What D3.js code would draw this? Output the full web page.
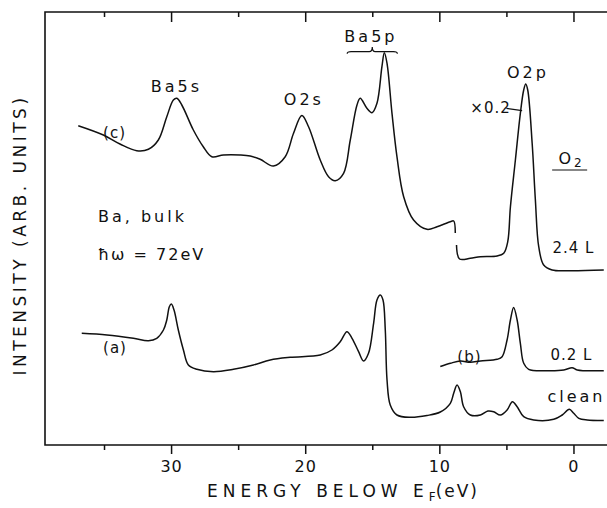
<!DOCTYPE html>
<html>
<head>
<meta charset="utf-8">
<script src="https://cdn.jsdelivr.net/npm/d3@7"></script>
<style>
  body { margin: 0; background: #fff; }
  text { font-family: "DejaVu Sans", sans-serif; fill: #111; }
</style>
</head>
<body>
<div id="chart-container"></div>
<script>
// spectra: [energy below EF (eV), intensity (arb. units)]
var curve_c1 = [[36.92,31.93],[35.05,31.0],[33.81,30.1],[32.56,29.43],[31.69,29.57],[30.95,30.5],[30.32,32.83],[29.83,34.5],[29.57,34.67],[29.2,34.0],[28.34,31.5],[27.6,29.83],[26.96,28.83],[26.1,29.0],[24.85,29.0],[24.1,28.9],[23.36,28.57],[22.37,27.9],[21.49,28.83],[20.87,31.17],[20.25,32.95],[19.75,31.83],[18.88,28.5],[18.26,26.83],[17.76,26.43],[17.14,27.17],[16.64,30.5],[16.14,34.0],[15.9,34.67],[15.4,33.67],[15.02,33.23],[14.65,34.17],[14.28,37.83],[14.1,39.23],[13.9,38.17],[13.53,33.17],[13.16,28.83],[12.66,24.83],[11.92,22.5],[10.92,21.57],[10.17,21.83],[9.18,22.33],[8.93,22.4],[8.81,21.2]];
var curve_c2 = [[8.72,20.0],[8.49,18.6],[7.69,18.67],[6.94,18.83],[5.69,18.9],[5.2,19.17],[4.9,20.33],[4.7,23.83],[4.33,28.5],[3.96,33.17],[3.71,35.5],[3.56,36.1],[3.41,35.5],[3.08,30.17],[2.84,24.5],[2.59,19.83],[2.22,18.0],[1.59,17.5],[0.22,17.43],[-2.26,17.5]];
var curve_a = [[36.66,11.17],[34.78,11.0],[32.81,10.67],[31.69,10.43],[31.07,10.67],[30.57,11.5],[30.32,12.5],[30.13,13.83],[29.98,14.1],[29.78,13.5],[29.46,11.5],[29.08,9.5],[28.71,8.0],[28.08,7.57],[26.84,7.33],[25.35,7.57],[23.86,8.0],[22.61,8.5],[21.12,8.77],[18.88,9.0],[18.01,9.5],[17.39,10.33],[16.89,11.33],[16.51,10.67],[16.02,9.33],[15.65,8.4],[15.28,9.17],[14.9,12.17],[14.65,14.5],[14.4,15.0],[14.2,14.5],[14.03,11.5],[13.9,6.5],[13.66,4.0],[13.16,3.0],[12.16,2.77],[10.92,2.95],[9.93,3.3],[9.18,4.17],[8.93,5.17],[8.68,6.0],[8.43,5.33],[8.19,3.83],[7.69,3.0],[6.94,3.0],[6.38,3.4],[5.95,3.33],[5.45,3.0],[4.95,3.5],[4.55,4.33],[4.2,3.83],[3.71,2.83],[2.96,2.5],[1.47,2.57],[0.84,3.0],[0.31,3.57],[-0.02,3.17],[-0.4,2.67],[-1.02,2.5],[-2.26,2.45]];
var curve_b = [[9.93,7.85],[9.18,8.17],[8.43,8.4],[7.69,8.27],[6.94,8.4],[5.69,8.57],[5.32,8.83],[4.95,10.5],[4.7,12.5],[4.46,13.75],[4.2,12.5],[3.96,10.17],[3.71,8.17],[3.34,7.57],[1.96,7.43],[0.72,7.5],[0.1,7.73],[-0.28,7.5],[-2.26,7.43]];

var major_ticks = [30, 20, 10, 0];
var minor_ticks = [35, 25, 15, 5];

var svg_width = 607;
var svg_height = 508;
var margin = {top: 12, right: 0, bottom: 63, left: 45};

var svg = d3.select("#chart-container")
	.append("svg")
	.attr("width", svg_width)
	.attr("height", svg_height);

var x = d3.scaleLinear()
	.domain([39.4, -2.5])
	.range([margin.left, svg_width - margin.right]);

var y = d3.scaleLinear()
	.domain([0, 43.3])
	.range([svg_height - margin.bottom, margin.top]);

var y0 = y(0), y1 = y(43.3);

function style_axis(g) {
	g.select(".domain").remove();
	g.selectAll(".tick line").attr("stroke", "#111").attr("stroke-width", 1.5);
	g.selectAll(".tick text")
		.style("font-size", "16px")
		.style("letter-spacing", "1px")
		.attr("fill", "#111");
}

// bottom axis, ticks outward
svg.append("g")
	.attr("transform", "translate(0," + y0 + ")")
	.call(d3.axisBottom(x).tickValues(major_ticks).tickSize(9).tickPadding(7).tickFormat(d3.format("d")))
	.call(style_axis);
svg.append("g")
	.attr("transform", "translate(0," + y0 + ")")
	.call(d3.axisBottom(x).tickValues(minor_ticks).tickSize(5).tickFormat(""))
	.call(style_axis);

// top axis, ticks inward
svg.append("g")
	.attr("transform", "translate(0," + y1 + ")")
	.call(d3.axisBottom(x).tickValues(major_ticks).tickSize(10).tickFormat(""))
	.call(style_axis);
svg.append("g")
	.attr("transform", "translate(0," + y1 + ")")
	.call(d3.axisBottom(x).tickValues(minor_ticks).tickSize(5).tickFormat(""))
	.call(style_axis);

// frame: left, top, bottom
svg.append("path")
	.attr("d", "M" + svg_width + "," + y1 + "H" + margin.left + "V" + y0 + "H" + svg_width)
	.attr("fill", "none")
	.attr("stroke", "#111")
	.attr("stroke-width", 1.6);

var line = d3.line()
	.x(function(d) { return x(d[0]); })
	.y(function(d) { return y(d[1]); })
	.curve(d3.curveCatmullRom.alpha(0.5));

svg.selectAll(".spectrum")
	.data([curve_c1, curve_c2, curve_a, curve_b])
	.enter()
	.append("path")
	.attr("class", "spectrum")
	.attr("d", line)
	.attr("fill", "none")
	.attr("stroke", "#111")
	.attr("stroke-width", 1.5)
	.attr("stroke-linejoin", "round");

// annotations
function label(txt, e, v, anchor, size, spacing) {
	return svg.append("text")
		.attr("x", x(e))
		.attr("y", y(v))
		.attr("text-anchor", anchor || "start")
		.style("font-size", (size || 16) + "px")
		.style("letter-spacing", (spacing === undefined ? 3 : spacing) + "px")
		.text(txt);
}

label("Ba5s", 29.6, 35.3, "middle");
label("O2s", 20.1, 34.0, "middle");
label("Ba5p", 15.1, 40.3, "middle");
label("O2p", 3.4, 36.7, "middle");
label("×0.2", 7.69, 33.2, "start", 15, 1);
label("(c)", 35.07, 30.7, "start", 15, 1);
label("Ba, bulk", 35.45, 22.3, "start", 16, 3);
label("ħω = 72eV", 35.45, 18.5, "start", 16, 2);
label("2.4 L", 1.57, 19.23, "start", 15, 1);
label("(a)", 35.07, 9.2, "start", 15, 1);
label("(b)", 8.66, 8.3, "start", 15, 1);
label("0.2 L", 1.72, 8.5, "start", 15, 1);
label("clean", 1.94, 4.33, "start", 16, 3);

var o2 = label("O", 1.12, 28.1, "start", 16, 1);
o2.append("tspan").attr("dx", 2).attr("dy", 3).style("font-size", "12px").text("2");

// underline of O2 and leader of x0.2
svg.append("line")
	.attr("x1", x(1.59)).attr("x2", x(-1.02))
	.attr("y1", y(27.5)).attr("y2", y(27.5))
	.attr("stroke", "#111").attr("stroke-width", 1.2);
svg.append("line")
	.attr("x1", x(5.0)).attr("x2", x(3.83))
	.attr("y1", y(33.67)).attr("y2", y(33.43))
	.attr("stroke", "#111").attr("stroke-width", 1.2);

// brace over Ba5p
var bx0 = x(16.87), bx1 = x(13.13), bm = x(15.0), by = y(39.33), bt = y(39.7);
svg.append("path")
	.attr("d", "M" + bx0 + "," + (by + 2) + "Q" + bx0 + "," + by + " " + (bx0 + 4) + "," + by +
		"L" + (bm - 3) + "," + by + "Q" + bm + "," + by + " " + bm + "," + (bt - 1) +
		"Q" + bm + "," + by + " " + (bm + 3) + "," + by +
		"L" + (bx1 - 4) + "," + by + "Q" + bx1 + "," + by + " " + bx1 + "," + (by + 2))
	.attr("fill", "none")
	.attr("stroke", "#111")
	.attr("stroke-width", 1.2);

// axis titles
var xt = svg.append("text")
	.attr("x", 343)
	.attr("y", 497)
	.attr("text-anchor", "middle")
	.style("font-size", "17px")
	.style("letter-spacing", "5px")
	.text("ENERGY BELOW E");
xt.append("tspan").attr("dy", 4).style("font-size", "12px").style("letter-spacing", "0px").text("F");
xt.append("tspan").attr("dy", -4).style("letter-spacing", "2px").text("(eV)");

svg.append("text")
	.attr("transform", "translate(26,235) rotate(-90)")
	.attr("text-anchor", "middle")
	.style("font-size", "17px")
	.style("letter-spacing", "3.5px")
	.text("INTENSITY (ARB. UNITS)");
</script>
</body>
</html>
